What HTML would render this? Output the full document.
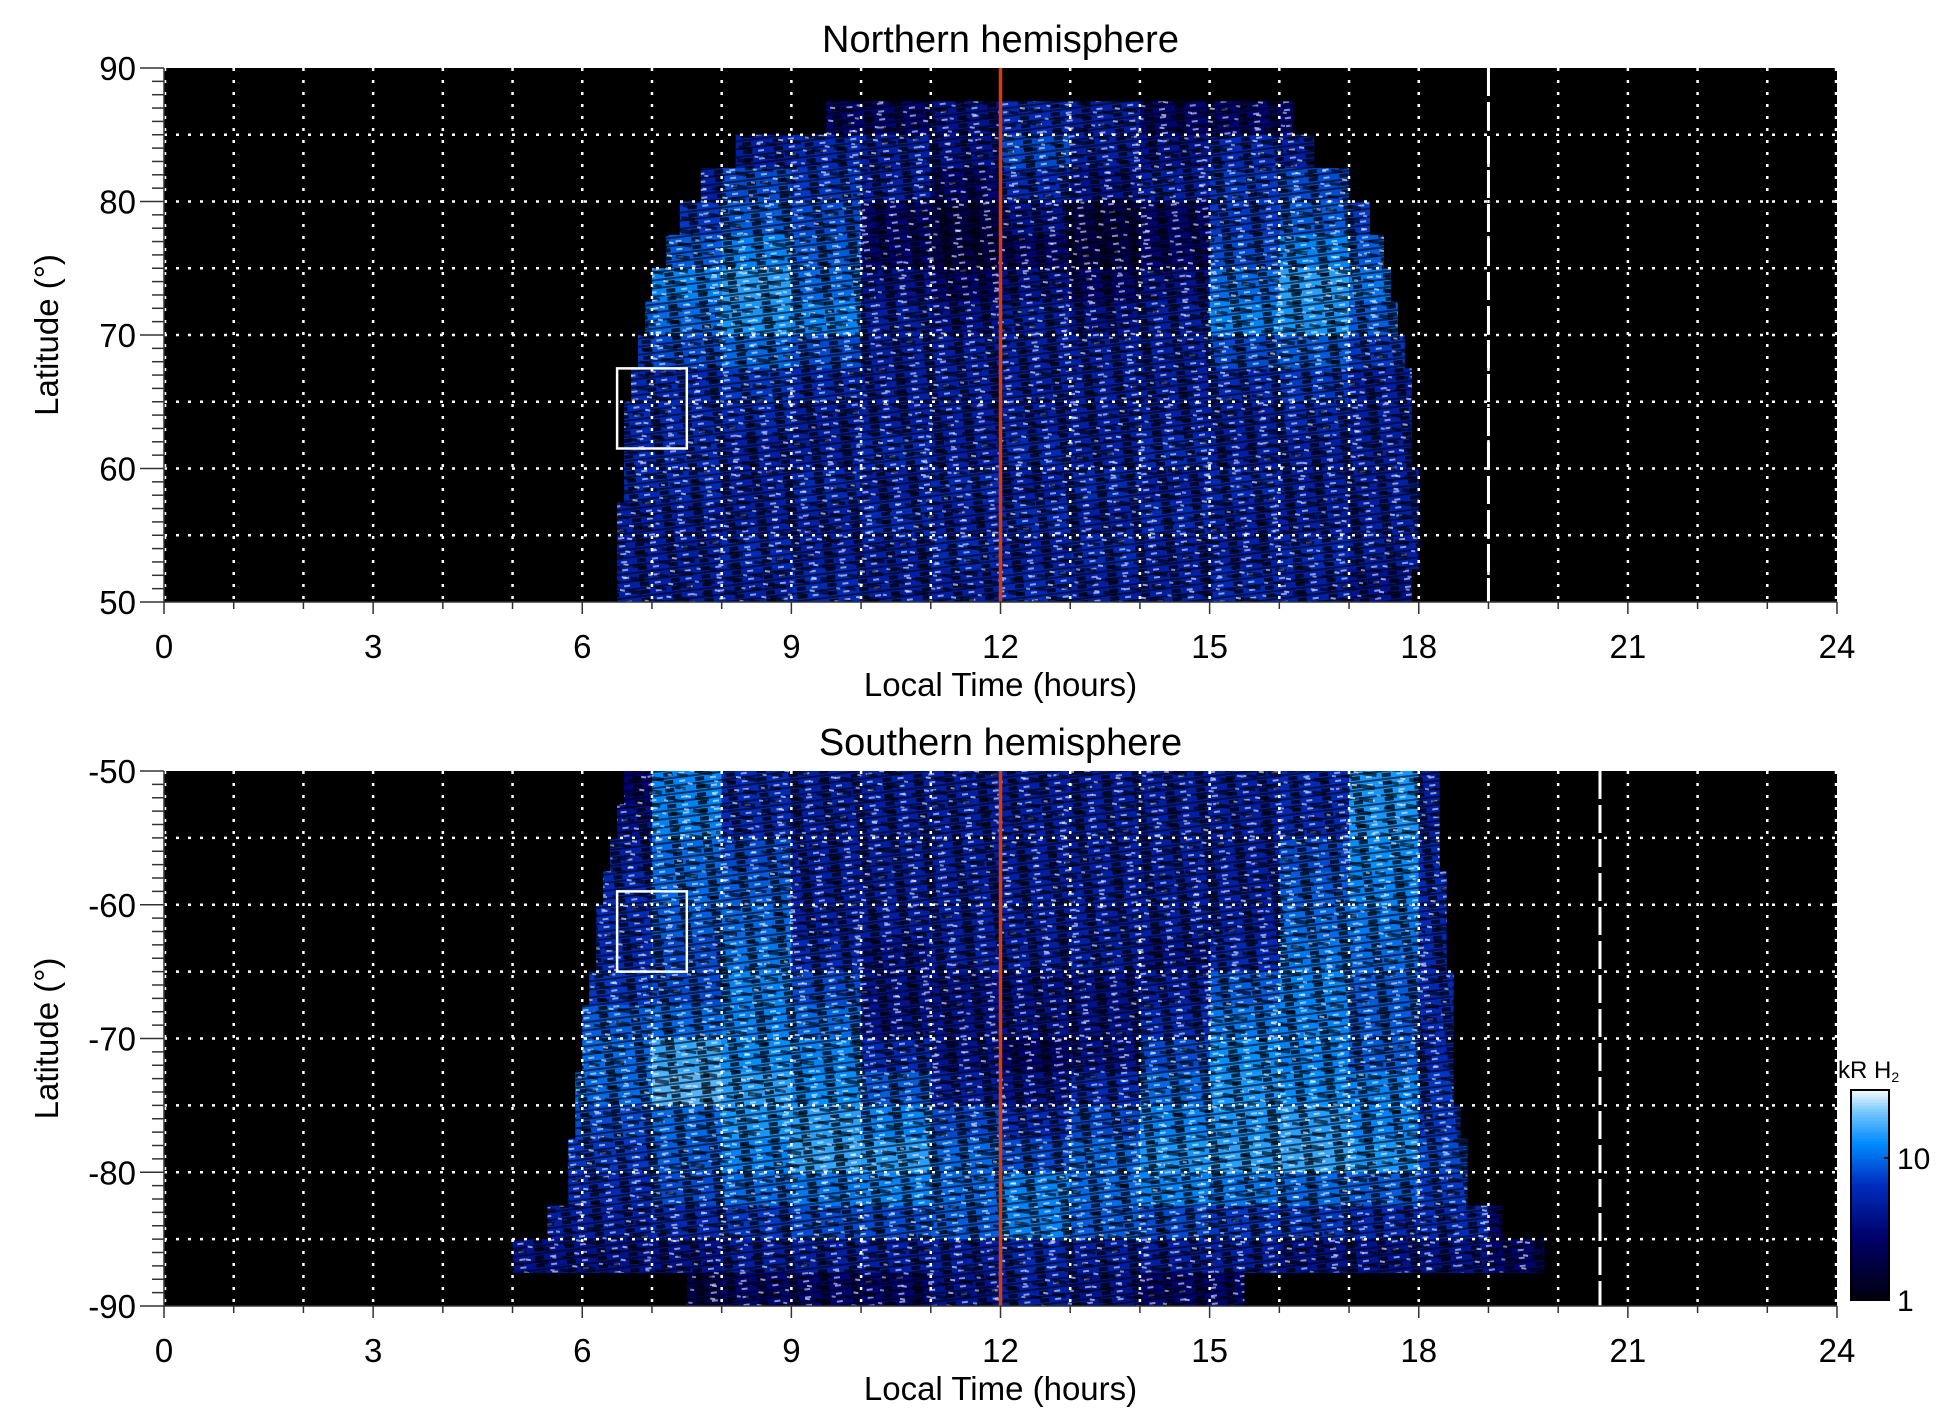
<!DOCTYPE html>
<html><head><meta charset="utf-8"><style>
html,body{margin:0;padding:0;background:#fff;}
svg{display:block;font-family:"Liberation Sans",sans-serif;}
</style></head><body>
<svg id="chart" width="1950" height="1423" viewBox="0 0 1950 1423" xmlns="http://www.w3.org/2000/svg">
<defs>
<pattern id="streaks" width="31" height="8" patternUnits="userSpaceOnUse" patternTransform="rotate(-7)">
<rect x="0" y="5" width="31" height="2" fill="#000" opacity="0.6"/>
<rect x="6" y="0" width="9" height="4" fill="#000" opacity="0.75"/>
<rect x="21" y="1" width="6" height="2" fill="#fff" opacity="0.55"/>
</pattern>
<pattern id="speck" width="47" height="13" patternUnits="userSpaceOnUse" patternTransform="rotate(8)">
<rect x="0" y="2" width="14" height="4" fill="#000" opacity="0.6"/>
<rect x="26" y="8" width="11" height="3" fill="#000" opacity="0.6"/>
<rect x="38" y="3" width="5" height="2" fill="#fff" opacity="0.6"/>
<rect x="17" y="10" width="4" height="2" fill="#fff" opacity="0.5"/>
</pattern>
</defs>
<g id="layer"></g>
</svg>
<script>
// ---- data (kR H2), rows of 2.5 deg latitude, columns = 1-hour LT bins starting at LT 5 ----
const hourTicks = [0,3,6,9,12,15,18,21,24];
const northLatTicks = [90,80,70,60,50];
const southLatTicks = [-50,-60,-70,-80,-90];
const cbTicks = [1,10];
const northStart = [12.0,9.5,8.2,7.7,7.4,7.2,7.0,6.9,6.8,6.7,6.6,6.6,6.6,6.5,6.5,6.5];
const northEnd   = [12.0,16.2,16.5,17.0,17.3,17.5,17.6,17.7,17.8,17.9,17.9,17.9,18.0,18.0,18.0,17.9];
const northVals = [
 [0,0,0,0,0,0,0,0,0,0,0,0,0,0],
 [0,0,0,0,3,3,4,6,5,3,3,3,0,0],
 [0,0,0,5,6,5,4,8,5,4,6,5,4,0],
 [0,0,5,8,7,5,3,6,4,5,7,8,5,0],
 [0,0,7,9,8,3,2,4,2,3,7,9,7,0],
 [0,9,9,12,9,3,2,3,2,3,8,12,9,0],
 [0,11,12,15,10,4,3,4,3,4,10,15,11,0],
 [0,9,10,14,12,5,4,5,4,5,12,14,9,0],
 [0,7,8,10,8,5,5,5,5,5,8,9,7,0],
 [0,6,6,7,6,5,5,5,5,5,6,7,5,0],
 [0,6,6,6,5,5,5,5,5,5,5,6,5,0],
 [0,6,6,5,5,6,5,6,5,6,5,5,5,0],
 [0,6,6,5,6,5,6,5,6,5,6,5,5,0],
 [0,5,5,5,5,6,5,6,5,6,5,5,5,0],
 [0,5,5,6,5,5,6,5,6,5,5,6,5,0],
 [0,5,5,5,6,5,5,6,5,5,6,5,4,0]
];
const southStart = [6.6,6.5,6.4,6.3,6.2,6.2,6.1,6.0,6.0,5.9,5.9,5.8,5.8,5.5,5.0,7.5];
const southEnd   = [18.3,18.3,18.3,18.4,18.4,18.4,18.5,18.5,18.5,18.5,18.6,18.7,18.7,19.2,19.8,15.5];
const southVals = [
 [3,3,12,6,5,5,5,5,5,5,5,6,14,5,0],
 [4,4,12,6,5,5,5,5,5,5,5,6,14,5,0],
 [5,5,10,8,5,5,5,5,5,5,5,8,13,6,0],
 [6,6,10,9,5,5,5,5,5,5,5,9,12,6,0],
 [6,6,9,10,5,5,5,5,5,5,5,10,11,6,0],
 [6,6,8,11,6,4,5,5,5,4,6,11,10,6,0],
 [7,7,8,12,8,4,4,4,4,5,9,12,9,6,0],
 [9,9,10,12,10,4,4,4,4,6,11,12,9,6,0],
 [10,10,16,13,12,6,4,3,4,8,13,12,9,6,0],
 [10,10,18,15,13,9,5,4,6,10,14,13,12,7,0],
 [8,8,10,14,15,12,8,6,8,12,14,15,12,7,0],
 [7,7,9,12,16,15,10,8,10,14,15,16,14,8,0],
 [6,6,8,10,11,12,10,12,10,12,11,10,9,7,0],
 [5,5,6,7,8,8,9,12,9,8,7,7,6,6,3],
 [4,4,4,5,5,5,5,6,5,5,5,4,4,4,3],
 [0,0,2,3,3,3,4,5,4,3,3,2,2,0,0]
];
const northBox = [6.5,7.5,61.5,67.5];
const southBox = [6.5,7.5,-59,-65];
const northDash = 19.0;
const southDash = 20.6;
const noonLT = 12;
const colStartLT = 5;
const rowStep = 2.5;

// ---- layout ----
const X0=164, X1=1837;
const P = {
 north:{top:68,bot:602,latTop:90,latBot:50},
 south:{top:771,bot:1306,latTop:-50,latBot:-90}
};
const NS="http://www.w3.org/2000/svg";
const layer=document.getElementById('layer');
function xs(lt){return X0+(X1-X0)*lt/24;}
function ys(p,lat){return p.top+(p.bot-p.top)*(p.latTop-lat)/(p.latTop-p.latBot);}
function mk(tag,attrs,parent){const e=document.createElementNS(NS,tag);for(const k in attrs)e.setAttribute(k,attrs[k]);(parent||layer).appendChild(e);return e;}
function color(v){
 const t=Math.max(0,Math.min(1,Math.log10(Math.max(v,1))/Math.log10(30)));
 const stops=[[0,0,0,12],[0.3,0,0,105],[0.55,0,45,190],[0.75,0,140,255],[0.9,120,200,255],[1,245,250,255]];
 for(let i=1;i<stops.length;i++){if(t<=stops[i][0]){const a=stops[i-1],b=stops[i],f=(t-a[0])/(b[0]-a[0]);
  return `rgb(${Math.round(a[1]+f*(b[1]-a[1]))},${Math.round(a[2]+f*(b[2]-a[2]))},${Math.round(a[3]+f*(b[3]-a[3]))})`;}}
 return 'rgb(245,250,255)';
}

function panel(key,p,vals,starts,ends,latTicks,box,dashLT,title){
 const g=mk('g',{});
 
 
 const bg=mk('rect',{x:X0,y:p.top,width:X1-X0,height:p.bot-p.top,fill:'#000'},g);
 
 
 const hm=mk('g',{},g);
 
 
 vals.forEach((row,r)=>{
  const latA=p.latTop-r*rowStep;
  const latB=latA-rowStep;
  row.forEach((v,c)=>{
   if(!v)return;
   let a=Math.max(colStartLT+c,starts[r]),b=Math.min(colStartLT+c+1,ends[r]);
   if(b<=a)return;
   const cell=mk('rect',{x:xs(a),y:ys(p,latA),width:xs(b)-xs(a),height:ys(p,latB)-ys(p,latA)+0.5,fill:color(v)},hm);
   
   
  });
 });
 vals.forEach((row,r)=>{
  const latA=p.latTop-r*rowStep;
  if(ends[r]<=starts[r])return;
  const at={x:xs(starts[r]),y:ys(p,latA),width:xs(ends[r])-xs(starts[r]),height:ys(p,latA-rowStep)-ys(p,latA)};
  mk('rect',Object.assign({fill:'url(#streaks)'},at),hm);
  mk('rect',Object.assign({fill:'url(#speck)'},at),hm);
 });
 const grid=mk('g',{stroke:'#fff','stroke-width':2.5,'stroke-dasharray':'3 9'},g);
 
 
 for(let h=1;h<24;h++)mk('line',{x1:xs(h),x2:xs(h),y1:p.top,y2:p.bot},grid);
 mk('line',{x1:X0+1,x2:X0+1,y1:p.top,y2:p.bot},grid);
 mk('line',{x1:X1-1,x2:X1-1,y1:p.top,y2:p.bot},grid);
 for(let l=1;l<8;l++){const lat=p.latTop-l*5;mk('line',{x1:X0,x2:X1,y1:ys(p,lat),y2:ys(p,lat)},grid);}
 const bx=mk('rect',{x:xs(box[0]),y:ys(p,Math.max(box[2],box[3])),width:xs(box[1])-xs(box[0]),height:Math.abs(ys(p,box[3])-ys(p,box[2])),fill:'none',stroke:'#fff','stroke-width':2.5},g);
 
 
 const dl=mk('line',{x1:xs(dashLT),x2:xs(dashLT),y1:p.top,y2:p.bot,stroke:'#fff','stroke-width':3,'stroke-dasharray':'28 6'},g);
 
 
 const nl=mk('line',{x1:xs(noonLT),x2:xs(noonLT),y1:p.top,y2:p.bot,stroke:'#d83a10','stroke-width':3.5},g);
 
 
 const ax=mk('g',{stroke:'#333','stroke-width':1.5},g);
 
 
 mk('line',{x1:X0,x2:X0,y1:p.top,y2:p.bot},ax);
 mk('line',{x1:X0,x2:X1,y1:p.bot,y2:p.bot},ax);
 for(let l=0;l<=40;l++){const lat=p.latTop-l;const len=(l%10===0)?24:12;
  mk('line',{x1:X0-len,x2:X0,y1:ys(p,lat),y2:ys(p,lat)},ax);}
 for(let h=0;h<=24;h++)mk('line',{x1:xs(h),x2:xs(h),y1:p.bot,y2:p.bot+(h%3===0?12:7)},ax);
 latTicks.forEach(t=>{const tx=mk('text',{x:X0-28,y:ys(p,t)+12,'text-anchor':'end','font-size':33,fill:'#000'},g);
  tx.textContent=t;});
 hourTicks.forEach(t=>{const tx=mk('text',{x:xs(t),y:p.bot+56,'text-anchor':'middle','font-size':33,fill:'#000'},g);
  tx.textContent=t;});
 const xt=mk('text',{x:(X0+X1)/2,y:p.bot+94,'text-anchor':'middle','font-size':33,fill:'#000'},g);
 xt.textContent='Local Time (hours)';
 
 
 const yc=(p.top+p.bot)/2;
 const yt=mk('text',{x:58,y:yc,'text-anchor':'middle','font-size':33,fill:'#000',transform:`rotate(-90 58 ${yc})`},g);
 yt.textContent='Latitude (°)';
 
 
 const tt=mk('text',{x:(X0+X1)/2,y:p.top-16,'text-anchor':'middle','font-size':38,fill:'#000'},g);
 tt.textContent=title;
 
 
}
panel('north',P.north,northVals,northStart,northEnd,northLatTicks,northBox,northDash,'Northern hemisphere');
panel('south',P.south,southVals,southStart,southEnd,southLatTicks,southBox,southDash,'Southern hemisphere');

const CB={x:1851,w:38,top:1090,bot:1300,max:30};
const cb=mk('g',{});


for(let i=0;i<70;i++){
 const f0=i/70,f1=(i+1)/70;
 const v=Math.pow(CB.max,(f0+f1)/2);
 mk('rect',{x:CB.x,y:CB.bot-(CB.bot-CB.top)*f1,width:CB.w,height:(CB.bot-CB.top)/70+0.6,fill:color(v)},cb);
}
mk('rect',{x:CB.x,y:CB.top,width:CB.w,height:CB.bot-CB.top,fill:'none',stroke:'#000','stroke-width':2},cb);
cbTicks.forEach(t=>{
 const y=CB.bot-(CB.bot-CB.top)*Math.log10(t)/Math.log10(CB.max);
 mk('line',{x1:CB.x+CB.w-5,x2:CB.x+CB.w,y1:y,y2:y,stroke:'#000','stroke-width':1.5},cb);
 const tx=mk('text',{x:CB.x+CB.w+8,y:y+11,'font-size':30,fill:'#000'},cb);
 tx.textContent=t;
 
 
});
const cl=mk('text',{x:1838,y:1078,'font-size':24,fill:'#000'},cb);
cl.innerHTML='kR H<tspan font-size="14" dy="4">2</tspan>';


</script>
</body></html>
